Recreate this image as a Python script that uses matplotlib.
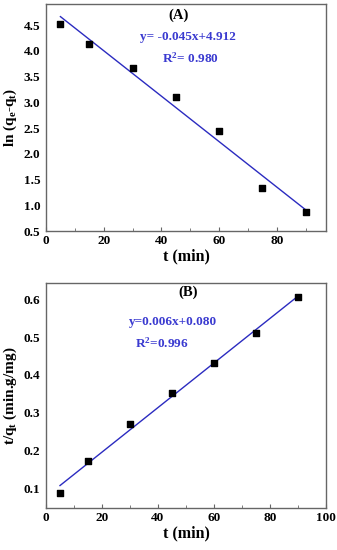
import numpy as np
import matplotlib
matplotlib.use("Agg")
import matplotlib.pyplot as plt

# Data
t = [5, 15, 30, 45, 60, 75, 90]
ln_qe_qt = [4.53, 4.14, 3.66, 3.10, 2.45, 1.33, 0.86]
t_over_qt = [0.088, 0.172, 0.270, 0.352, 0.432, 0.510, 0.606]
eq_a = ["(A)", "y= -0.045x+4.912", "R$^{\\mathbf{2}}$= 0.980"]
eq_b = ["(B)", "y=0.006x+0.080", "R$^{\\mathbf{2}}$=0.996"]

plt.rcParams['font.family'] = ['Liberation Serif', 'DejaVu Serif']
plt.rcParams['font.weight'] = 'bold'
plt.rcParams['mathtext.fontset'] = 'custom'
plt.rcParams['mathtext.rm'] = 'Liberation Serif:bold'
plt.rcParams['mathtext.it'] = 'Liberation Serif:bold'
plt.rcParams['mathtext.bf'] = 'Liberation Serif:bold'

fig = plt.figure(figsize=(3.37, 5.5), dpi=100)
axA = fig.add_axes([0.1365, 0.58, 0.8305, 0.4127])
axB = fig.add_axes([0.1365, 0.0764, 0.8305, 0.4091])

line_c = '#2b2bc0'
txt_c = '#3a3ad0'
frame_c = '#666666'

def style(ax):
    for s in ax.spines.values():
        s.set_color(frame_c)
        s.set_linewidth(1.0)
    ax.tick_params(axis='both', which='both', direction='in', color=frame_c,
                   labelsize=9.5, pad=3)
    ax.tick_params(axis='both', which='major', length=3)
    ax.tick_params(axis='both', which='minor', length=2)
    ax.tick_params(axis='y', which='both', length=0, pad=4)
    for lab in ax.get_xticklabels() + ax.get_yticklabels():
        lab.set_fontweight('bold')

x = np.array(t, dtype=float)
xl = np.array([x.min(), x.max()])

# A
pa = np.polyfit(x, ln_qe_qt, 1)
axA.plot(xl, np.polyval(pa, xl), color=line_c, lw=1.0)
axA.scatter(t, ln_qe_qt, marker='s', s=15, color='black', zorder=3)
axA.set_xlim(0, 97)
axA.set_ylim(0.5, 4.91)
axA.set_xticks([0, 20, 40, 60, 80])
axA.set_xticks([10, 30, 50, 70, 90], minor=True)
axA.set_yticks([0.5, 1.0, 1.5, 2.0, 2.5, 3.0, 3.5, 4.0, 4.5])
axA.set_yticklabels(['0.5', '1.0', '1.5', '2.0', '2.5', '3.0', '3.5', '4.0', '4.5'])
style(axA)
axA.set_xlabel('t (min)', fontsize=11.5, fontweight='bold', labelpad=1)
axA.set_ylabel('ln (q$_{\\mathbf{e}}$-q$_{\\mathbf{t}}$)', fontsize=11, fontweight='bold')
axA.yaxis.set_label_coords(-0.098, 0.5)
axA.text(46.1, 4.69, eq_a[0], ha='center', va='center', fontsize=10.5, fontweight='bold', color='black')
axA.text(49.2, 4.27, eq_a[1], ha='center', va='center', fontsize=9.5, fontweight='bold', color=txt_c)
axA.text(49.9, 3.86, eq_a[2], ha='center', va='center', fontsize=9.5, fontweight='bold', color=txt_c)

# B
pb = np.polyfit(x, t_over_qt, 1)
axB.plot(xl, np.polyval(pb, xl), color=line_c, lw=1.0)
axB.scatter(t, t_over_qt, marker='s', s=15, color='black', zorder=3)
axB.set_xlim(0, 100)
axB.set_ylim(0.048, 0.643)
axB.set_xticks([0, 20, 40, 60, 80, 100])
axB.set_xticks([10, 30, 50, 70, 90], minor=True)
axB.set_yticks([0.1, 0.2, 0.3, 0.4, 0.5, 0.6])
axB.set_yticklabels(['0.1', '0.2', '0.3', '0.4', '0.5', '0.6'])
style(axB)
axB.set_xlabel('t (min)', fontsize=11.5, fontweight='bold', labelpad=1)
axB.set_ylabel('t/q$_{\\mathbf{t}}$ (min.g/mg)', fontsize=11, fontweight='bold')
axB.yaxis.set_label_coords(-0.098, 0.5)
axB.text(50.7, 0.618, eq_b[0], ha='center', va='center', fontsize=10.5, fontweight='bold', color='black')
axB.text(45.4, 0.541, eq_b[1], ha='center', va='center', fontsize=9.5, fontweight='bold', color=txt_c)
axB.text(41.3, 0.484, eq_b[2], ha='center', va='center', fontsize=9.5, fontweight='bold', color=txt_c)

fig.savefig('out.png', dpi=100)
